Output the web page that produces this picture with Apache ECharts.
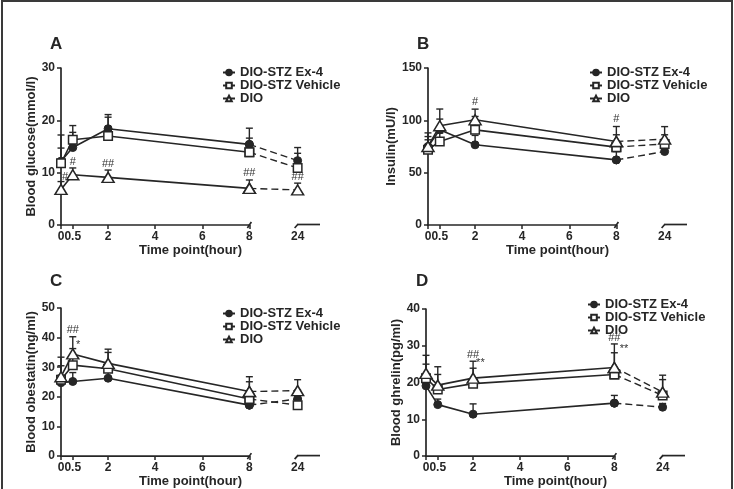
<!DOCTYPE html>
<html><head><meta charset="utf-8">
<script src="https://cdn.jsdelivr.net/npm/echarts@6/dist/echarts.min.js"></script>
<style>
html,body{margin:0;padding:0;background:#fff;}
#chart{position:absolute;left:0;top:0;width:734px;height:489px;}
#frame{position:absolute;left:1px;top:0;width:728px;height:500px;border:2px solid #3a3a3a;border-bottom:none;pointer-events:none;}
</style>
</head><body>
<div id="chart"></div><div id="frame"></div>
<script>
// ---------- data ----------
const timePoints = [0, 0.5, 2, 8, 24];
const xTickValues = [0, 0.5, 2, 4, 6, 8, 24];
const xTickLabels = ['0', '0.5', '2', '4', '6', '8', '24'];
const groupNames = ['DIO-STZ Ex-4', 'DIO-STZ Vehicle', 'DIO'];

// A: blood glucose (mmol/l)
const glucoseEx4 = [12.2, 14.8, 18.4, 15.4, 12.3];
const glucoseEx4Sd = [5.0, 2.9, 2.7, 3.1, 2.5];
const glucoseVeh = [11.8, 16.3, 17.0, 13.9, 10.9];
const glucoseVehSd = [2.9, 2.7, 3.6, 2.7, 2.8];
const glucoseDio = [6.8, 9.6, 9.1, 7.0, 6.7];
const glucoseDioSd = [1.5, 1.3, 1.4, 1.6, 1.3];

// B: insulin (mU/l)
const insulinEx4 = [75, 90.9, 76.6, 62.2, 70.2];
const insulinEx4Sd = [13, 10.3, 9, 8, 4];
const insulinVeh = [72, 79.8, 90.9, 74.4, 77.5];
const insulinVehSd = [12.5, 8, 12.8, 11.8, 8.7];
const insulinDio = [75, 94.8, 100.5, 79.8, 82];
const insulinDioSd = [6.4, 16, 10.2, 14.3, 12];

// C: blood obestatin (ng/ml)
const obestatinEx4 = [24.8, 25.2, 26.3, 17.2, 19.3];
const obestatinEx4Sd = [2.5, 3.0, 2.0, 3.5, 3.0];
const obestatinVeh = [25.8, 30.7, 29.5, 19.3, 17.2];
const obestatinVehSd = [4.7, 5.6, 5.5, 5.8, 2.0];
const obestatinDio = [26.8, 34.5, 31.3, 21.8, 22.1];
const obestatinDioSd = [6.6, 5.8, 4.8, 5.0, 3.7];

// D: blood ghrelin (pg/ml)
const ghrelinEx4 = [19.1, 14.0, 11.4, 14.4, 13.3];
const ghrelinEx4Sd = [1.5, 1.5, 2.8, 2.1, 1.0];
const ghrelinVeh = [21.2, 18.1, 19.7, 22.2, 16.5];
const ghrelinVehSd = [3.8, 4.1, 4.2, 5.9, 4.3];
const ghrelinDio = [22.5, 19.3, 21.2, 24.1, 17.4];
const ghrelinDioSd = [4.9, 5.0, 4.6, 6.4, 4.6];

// significance marks (hour, value, text)
const marksAHours = [0.17, 0.5, 2, 8, 24];
const marksAValues = [9.2, 12.1, 11.7, 9.9, 9.2];
const marksATexts = ['#', '#', '##', '##', '##'];
const marksBHours = [2, 8];
const marksBValues = [118, 101];
const marksBTexts = ['#', '#'];
const marksCHours = [0.5, 0.73];
const marksCValues = [42.6, 37.4];
const marksCTexts = ['##', '*'];
const marksDHours = [2, 2.31, 8, 8.41];
const marksDValues = [27.6, 25.3, 32.0, 29.2];
const marksDTexts = ['##', '**', '##', '**'];

// ---------- layout / styling ----------
const INK = '#262626';
const FONT = '"Liberation Sans", Arial, Helvetica, sans-serif';
const BREAK_AT = 8, LATE_POINT = 24, BREAK_POS = 10.05, AXIS_END = 11;
function toAxis(t) { return t >= LATE_POINT ? BREAK_POS : t; }

const panels = [
  { letter: 'A', yName: 'Blood glucose(mmol/l)', yMax: 30, yInt: 10, grid: { left: 61, top: 68, width: 259, height: 157 }, letterPos: [50, 36], legendPos: [222, 66], nameGap: 22,
    groups: [[glucoseEx4, glucoseEx4Sd], [glucoseVeh, glucoseVehSd], [glucoseDio, glucoseDioSd]], marks: [marksAHours, marksAValues, marksATexts] },
  { letter: 'B', yName: 'Insulin(mU/l)', yMax: 150, yInt: 50, grid: { left: 428, top: 68, width: 259, height: 157 }, letterPos: [417, 36], legendPos: [589, 66], nameGap: 27,
    groups: [[insulinEx4, insulinEx4Sd], [insulinVeh, insulinVehSd], [insulinDio, insulinDioSd]], marks: [marksBHours, marksBValues, marksBTexts] },
  { letter: 'C', yName: 'Blood obestatin(ng/ml)', yMax: 50, yInt: 10, grid: { left: 61, top: 308, width: 259, height: 159 }, letterPos: [50, 273], legendPos: [222, 307], nameGap: 22,
    groups: [[obestatinEx4, obestatinEx4Sd], [obestatinVeh, obestatinVehSd], [obestatinDio, obestatinDioSd]], marks: [marksCHours, marksCValues, marksCTexts] },
  { letter: 'D', yName: 'Blood ghrelin(pg/ml)', yMax: 40, yInt: 10, grid: { left: 426, top: 309, width: 259, height: 158 }, letterPos: [416, 273], legendPos: [587, 298], nameGap: 23,
    groups: [[ghrelinEx4, ghrelinEx4Sd], [ghrelinVeh, ghrelinVehSd], [ghrelinDio, ghrelinDioSd]], marks: [marksDHours, marksDValues, marksDTexts] }
];

const symbolStyles = [
  { symbol: 'circle', symbolSize: 8, itemStyle: { color: INK, borderColor: INK, borderWidth: 1 } },
  { symbol: 'rect', symbolSize: 8.5, itemStyle: { color: '#fff', borderColor: INK, borderWidth: 1.5 } },
  { symbol: 'triangle', symbolSize: [12, 10], itemStyle: { color: '#fff', borderColor: INK, borderWidth: 1.5 } }
];

function axisRenderer(params, api) {
  const a = api.coord([0, 0]), b = api.coord([BREAK_AT, 0]);
  const c = api.coord([BREAK_POS, 0]), d = api.coord([AXIS_END, 0]);
  const st = { stroke: INK, lineWidth: 1.7 };
  return { type: 'group', children: [
    { type: 'line', shape: { x1: a[0] - 1, y1: a[1], x2: b[0], y2: b[1] }, style: st },
    { type: 'line', shape: { x1: b[0] - 2, y1: b[1] + 3, x2: b[0] + 2, y2: b[1] - 3 }, style: st },
    { type: 'line', shape: { x1: c[0] - 3, y1: c[1] + 3, x2: c[0] + 0.5, y2: c[1] - 1 }, style: st },
    { type: 'line', shape: { x1: c[0], y1: c[1] - 0.5, x2: d[0], y2: d[1] - 0.5 }, style: st }
  ] };
}

function errRenderer(params, api) {
  const x = api.value(0), m = api.value(1), s = api.value(2);
  const p0 = api.coord([x, m]), p1 = api.coord([x, m + s]);
  const st = { stroke: INK, lineWidth: 1.4 };
  return { type: 'group', children: [
    { type: 'line', shape: { x1: p0[0], y1: p0[1], x2: p1[0], y2: p1[1] }, style: st },
    { type: 'line', shape: { x1: p1[0] - 3.5, y1: p1[1], x2: p1[0] + 3.5, y2: p1[1] }, style: st }
  ] };
}

const option = { backgroundColor: '#fff', animation: false, title: [], legend: [], grid: [], xAxis: [], yAxis: [], series: [] };

panels.forEach((p, pi) => {
  option.grid.push(Object.assign({ containLabel: false }, p.grid));
  option.title.push({ text: p.letter, left: p.letterPos[0], top: p.letterPos[1], padding: 0,
    textStyle: { fontFamily: FONT, fontSize: 17, fontWeight: 'bold', color: INK } });
  option.legend.push({ orient: 'vertical', left: p.legendPos[0], top: p.legendPos[1], padding: 0, itemGap: 0,
    itemWidth: 12, itemHeight: 7, data: groupNames, selectedMode: false,
    textStyle: { fontFamily: FONT, fontSize: 13, fontWeight: 'bold', color: INK, lineHeight: 13 } });
  const tickPos = xTickValues.map(toAxis);
  option.xAxis.push({ type: 'value', gridIndex: pi, min: 0, max: AXIS_END,
    name: 'Time point(hour)', nameLocation: 'middle', nameGap: 18,
    nameTextStyle: { fontFamily: FONT, fontSize: 13, fontWeight: 'bold', color: INK },
    axisLine: { show: false }, splitLine: { show: false },
    axisTick: { show: true, length: 4, customValues: tickPos.slice(0, 6), lineStyle: { color: INK, width: 1.5 } },
    axisLabel: { customValues: tickPos, margin: 6, fontFamily: FONT, fontSize: 12, fontWeight: 'bold', color: INK,
      formatter: v => { const i = tickPos.findIndex(q => Math.abs(q - v) < 1e-6); return i >= 0 ? xTickLabels[i] : ''; } } });
  option.yAxis.push({ type: 'value', gridIndex: pi, min: 0, max: p.yMax, interval: p.yInt,
    name: p.yName, nameLocation: 'middle', nameGap: p.nameGap,
    nameTextStyle: { fontFamily: FONT, fontSize: 13, fontWeight: 'bold', color: INK },
    axisLine: { show: true, onZero: false, lineStyle: { color: INK, width: 1.7 } },
    axisTick: { show: true, length: 4, lineStyle: { color: INK, width: 1.5 } },
    splitLine: { show: false },
    axisLabel: { margin: 6, fontFamily: FONT, fontSize: 12, fontWeight: 'bold', color: INK } });

  // broken x axis
  option.series.push({ type: 'custom', xAxisIndex: pi, yAxisIndex: pi, silent: true, clip: false, z: 1,
    data: [[0, 0]], renderItem: axisRenderer });

  p.groups.forEach((g, gi) => {
    const [means, sds] = g;
    const pts = timePoints.map((t, i) => [toAxis(t), means[i]]);
    option.series.push({ type: 'custom', xAxisIndex: pi, yAxisIndex: pi, silent: true, clip: false, z: 2,
      data: timePoints.map((t, i) => [toAxis(t), means[i], sds[i]]), renderItem: errRenderer });
    const sym = symbolStyles[gi];
    option.series.push(Object.assign({ type: 'line', name: groupNames[gi], xAxisIndex: pi, yAxisIndex: pi, z: 3 + gi,
      data: pts.filter((q, i) => timePoints[i] <= BREAK_AT), showSymbol: true, silent: true,
      lineStyle: { color: INK, width: 1.6 } }, JSON.parse(JSON.stringify(sym))));
    option.series.push(Object.assign({ type: 'line', name: groupNames[gi], xAxisIndex: pi, yAxisIndex: pi, z: 3 + gi,
      data: pts.filter((q, i) => timePoints[i] >= BREAK_AT), showSymbol: true, silent: true,
      lineStyle: { color: INK, width: 1.4, type: [7, 4] } }, JSON.parse(JSON.stringify(sym))));
  });

  const [mh, mv, mt] = p.marks;
  option.series.push({ type: 'custom', xAxisIndex: pi, yAxisIndex: pi, silent: true, clip: false, z: 10,
    data: mh.map((h, i) => [toAxis(h), mv[i]]),
    renderItem: (params, api) => {
      const c = api.coord([api.value(0), api.value(1)]);
      return { type: 'text', x: c[0], y: c[1], style: { text: mt[params.dataIndex], align: 'center', verticalAlign: 'middle',
        fontFamily: FONT, fontSize: 11, fill: '#333' } };
    } });
});

const chart = echarts.init(document.getElementById('chart'), null, { renderer: 'canvas' });
chart.setOption(option);
</script>
</body></html>
